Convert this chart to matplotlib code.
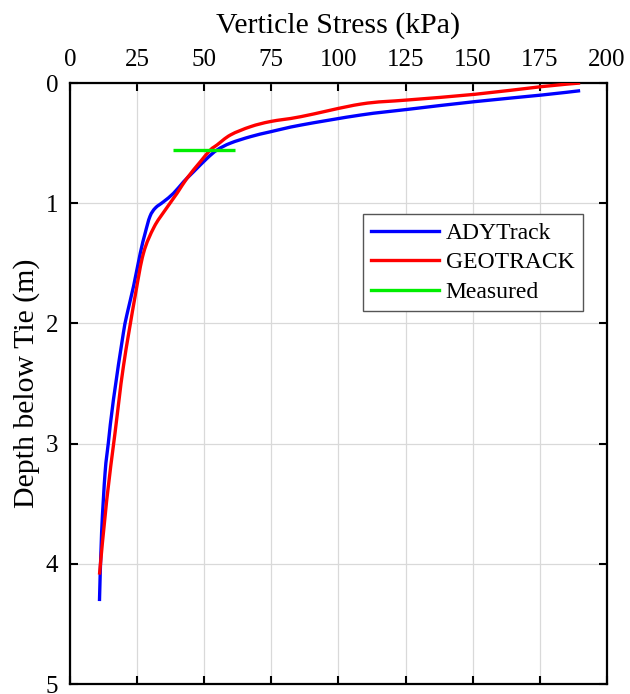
import matplotlib
matplotlib.use("Agg")
import matplotlib.pyplot as plt
from matplotlib.path import Path
from matplotlib.patches import PathPatch
from matplotlib.lines import Line2D

plt.rcParams['font.family'] = ['Liberation Serif', 'DejaVu Serif']

# ADYTrack: (stress kPa, depth m)
ady_stress = [190, 175.7, 150.8, 125.9, 108.4, 86, 74.8, 67.3, 59.8, 54.8, 51.1, 46.1,
              42.4, 38.6, 34.9, 31.8, 29.8, 28, 26.2, 23.7, 21.5, 19.9, 16.2, 14.3,
              13.1, 11.8, 11]
ady_depth = [0.064, 0.10, 0.155, 0.219, 0.266, 0.35, 0.405, 0.446, 0.50, 0.557, 0.626, 0.737,
             0.82, 0.917, 0.987, 1.04, 1.11, 1.25, 1.415, 1.69, 1.9, 2.08, 2.635, 2.995,
             3.24, 3.74, 4.31]

# GEOTRACK
geo_stress = [190, 175.7, 150.8, 125.9, 108.4, 86, 74.8, 67.3, 59.8, 54.8, 52.3, 48.6,
              43.6, 39.9, 35.5, 31.3, 27.4, 24.3, 19.9, 16.8, 13.7, 11]
geo_depth = [0.0, 0.03, 0.094, 0.141, 0.175, 0.28, 0.32, 0.363, 0.432, 0.515, 0.557, 0.654,
             0.792, 0.917, 1.056, 1.2, 1.415, 1.77, 2.36, 2.91, 3.47, 4.09]

# Measured
meas_stress = [38.2, 61.3]
meas_depth = [0.557, 0.557]

xticks = [0, 25, 50, 75, 100, 125, 150, 175, 200]
yticks = [0, 1, 2, 3, 4, 5]


def smooth_path(xs, ys):
    """Catmull-Rom curve through the given points as cubic Bezier path segments."""
    pts = list(zip(xs, ys))
    verts = [pts[0]]
    codes = [Path.MOVETO]
    n = len(pts)
    for i in range(n - 1):
        p0 = pts[i - 1] if i > 0 else pts[i]
        p1 = pts[i]
        p2 = pts[i + 1]
        p3 = pts[i + 2] if i + 2 < n else pts[i + 1]
        c1 = (p1[0] + (p2[0] - p0[0]) / 6.0, p1[1] + (p2[1] - p0[1]) / 6.0)
        c2 = (p2[0] - (p3[0] - p1[0]) / 6.0, p2[1] - (p3[1] - p1[1]) / 6.0)
        verts += [c1, c2, p2]
        codes += [Path.CURVE4] * 3
    return Path(verts, codes)


fig = plt.figure(figsize=(6.3, 6.94), dpi=100)
ax = fig.add_axes([0.111, 0.0144, 0.8525, 0.866])

lw = 2.4
for xs, ys, col in [(ady_stress, ady_depth, '#0000ff'),
                    (geo_stress, geo_depth, '#ff0000')]:
    ax.add_patch(PathPatch(smooth_path(xs, ys), facecolor='none', edgecolor=col,
                           lw=lw, capstyle='butt', zorder=3))
ax.plot(meas_stress, meas_depth, color='#00ee00', lw=lw, solid_capstyle='butt', zorder=3)

ax.set_xlim(0, 200)
ax.set_ylim(5, 0)
ax.set_xticks(xticks)
ax.set_yticks(yticks)
ax.xaxis.tick_top()
ax.xaxis.set_label_position('top')
ax.tick_params(axis='both', direction='in', length=6, width=1.5, labelsize=18,
               top=True, bottom=True, left=True, right=True)
ax.tick_params(axis='x', pad=8.5)
ax.tick_params(axis='y', pad=8.5)
for s in ax.spines.values():
    s.set_linewidth(1.6)
ax.grid(True, color='#d9d9d9', lw=0.9)
ax.set_axisbelow(True)

ax.set_xlabel('Verticle Stress (kPa)', fontsize=21.5, labelpad=12)
ax.set_ylabel('Depth below Tie (m)', fontsize=21.5, labelpad=4)

handles = [Line2D([], [], color='#0000ff', lw=lw),
           Line2D([], [], color='#ff0000', lw=lw),
           Line2D([], [], color='#00ee00', lw=lw)]
labels = ['ADYTrack', 'GEOTRACK', 'Measured']
leg = ax.legend(handles, labels, loc='upper left', bbox_to_anchor=(0.546, 0.782),
                fontsize=17, frameon=True, fancybox=False, edgecolor='#555555',
                framealpha=1, handlelength=2.85, borderpad=0.35, labelspacing=0.34,
                handletextpad=0.3, borderaxespad=0)
leg.get_frame().set_linewidth(1.0)

fig.savefig('out.png', dpi=100)
